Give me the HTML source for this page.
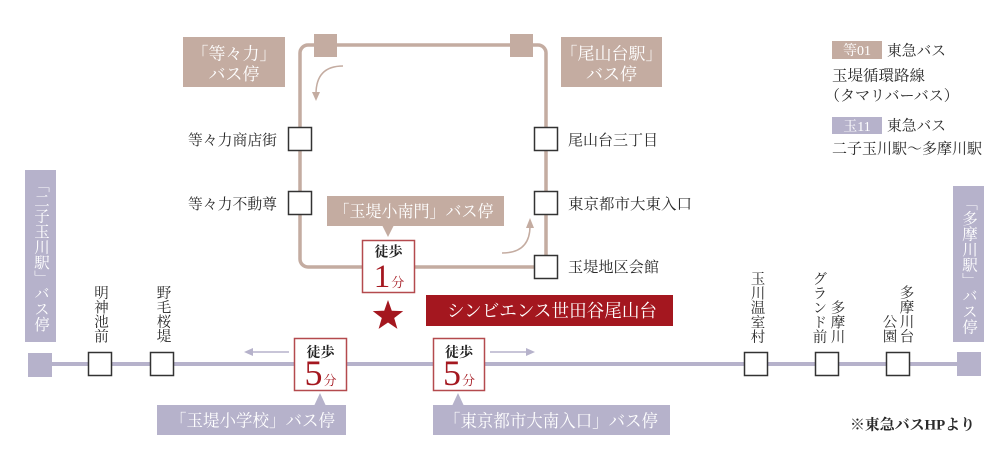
<!DOCTYPE html>
<html><head><meta charset="utf-8"><style>
html,body{margin:0;padding:0;background:#fff;}
body{width:1000px;height:466px;position:relative;overflow:hidden;font-family:"Liberation Serif","Noto Serif CJK SC",serif;}
svg{position:absolute;left:0;top:0;}
svg text{font-family:"Liberation Serif","Noto Serif CJK SC",serif;}
.v{position:absolute;writing-mode:vertical-rl;font-size:14.5px;line-height:15px;width:15px;color:#2a2a2a;white-space:nowrap;}
.vb{position:absolute;writing-mode:vertical-rl;font-size:15.5px;line-height:31px;width:31px;color:#fff;white-space:nowrap;}
</style></head><body>
<svg width="1000" height="466" viewBox="0 0 1000 466">
<!-- top loop -->
<rect x="300" y="45" width="246" height="222" rx="8" fill="none" stroke="#c4aca1" stroke-width="3.5"/>
<rect x="314" y="34" width="23" height="23" fill="#c4aca1"/>
<rect x="510" y="34" width="23" height="23" fill="#c4aca1"/>
<rect x="183" y="37" width="102" height="50" fill="#c4aca1"/>
<rect x="561" y="37" width="101" height="50" fill="#c4aca1"/>
<rect x="327" y="196" width="177" height="30" fill="#c4aca1"/>
<polygon points="382,225 394,225 388,237" fill="#c4aca1"/>
<path d="M343,66 Q316,66 316,94" fill="none" stroke="#c4aca1" stroke-width="1.5"/>
<polygon points="312,92 320,92 316,101" fill="#c4aca1"/>
<path d="M502,253 Q530,253 530,226" fill="none" stroke="#c4aca1" stroke-width="1.5"/>
<polygon points="526,228 534,228 530,218" fill="#c4aca1"/>
<!-- top stop squares -->
<g fill="#fff" stroke="#333" stroke-width="1.5">
<rect x="288.5" y="127.5" width="23" height="23"/>
<rect x="288.5" y="191.5" width="23" height="23"/>
<rect x="534.5" y="127.5" width="23" height="23"/>
<rect x="534.5" y="191.5" width="23" height="23"/>
<rect x="534.5" y="255.5" width="23" height="23"/>
</g>
<!-- bottom line -->
<line x1="40" y1="364" x2="965" y2="364" stroke="#b6b2cb" stroke-width="4"/>
<rect x="28" y="353" width="24" height="24" fill="#b6b2cb"/>
<rect x="957" y="352" width="24" height="24" fill="#b6b2cb"/>
<rect x="25" y="170" width="31" height="172" fill="#b6b2cb"/>
<rect x="953" y="186" width="31" height="156" fill="#b6b2cb"/>
<g fill="#fff" stroke="#333" stroke-width="1.5">
<rect x="88.5" y="352.5" width="23" height="23"/>
<rect x="150.5" y="352.5" width="23" height="23"/>
<rect x="744.5" y="352.5" width="23" height="23"/>
<rect x="815.5" y="352.5" width="23" height="23"/>
<rect x="886.5" y="352.5" width="23" height="23"/>
</g>
<!-- walk arrows -->
<line x1="289" y1="352" x2="250" y2="352" stroke="#b6b2cb" stroke-width="1.5"/>
<polygon points="244,352 253,348 253,356" fill="#b6b2cb"/>
<line x1="490" y1="352" x2="528" y2="352" stroke="#b6b2cb" stroke-width="1.5"/>
<polygon points="535,352 526,348 526,356" fill="#b6b2cb"/>
<!-- lavender labels -->
<rect x="157" y="405" width="189" height="30" fill="#b6b2cb"/>
<polygon points="314,406 326,406 320,393" fill="#b6b2cb"/>
<rect x="433" y="405" width="237" height="30" fill="#b6b2cb"/>
<polygon points="452,406 464,406 458,393" fill="#b6b2cb"/>
<!-- walk boxes -->
<g fill="#fff" stroke="#b44a4e" stroke-width="1.5">
<rect x="362.5" y="240.5" width="52" height="52"/>
<rect x="294.5" y="338.5" width="52" height="52"/>
<rect x="433.5" y="338.5" width="51" height="52"/>
</g>
<!-- star -->
<polygon points="388,300 391.8,310.7 403.2,311.1 394.2,318 397.4,328.9 388,322.5 378.6,328.9 381.8,318 372.8,311.1 384.2,310.7" fill="#a4171f"/>
<!-- banner -->
<rect x="426" y="295" width="247" height="31" fill="#a4171f"/>
<!-- legend boxes -->
<rect x="832" y="41" width="50" height="18" fill="#c4aca1"/>
<rect x="832" y="117" width="50" height="17" fill="#b6b2cb"/>

<!-- texts -->
<g fill="#fff" font-size="17">
<text x="234" y="59.5" text-anchor="middle">「等々力」</text>
<text x="234" y="80" text-anchor="middle">バス停</text>
<text x="611.5" y="59.5" text-anchor="middle">「尾山台駅」</text>
<text x="611.5" y="80" text-anchor="middle">バス停</text>
</g>
<text x="413.5" y="217" text-anchor="middle" font-size="16.5" fill="#fff" textLength="160" lengthAdjust="spacingAndGlyphs">「玉堤小南門」バス停</text>
<g fill="#2a2a2a" font-size="15">
<text x="277" y="145" text-anchor="end" textLength="89" lengthAdjust="spacingAndGlyphs">等々力商店街</text>
<text x="277" y="209" text-anchor="end" textLength="89" lengthAdjust="spacingAndGlyphs">等々力不動尊</text>
<text x="568" y="145" textLength="90" lengthAdjust="spacingAndGlyphs">尾山台三丁目</text>
<text x="568" y="209" textLength="124" lengthAdjust="spacingAndGlyphs">東京都市大東入口</text>
<text x="568" y="272" textLength="91" lengthAdjust="spacingAndGlyphs">玉堤地区会館</text>
</g>
<text x="447" y="317" font-size="18" fill="#fff" textLength="210" lengthAdjust="spacingAndGlyphs">シンビエンス世田谷尾山台</text>
<text x="170" y="426.5" font-size="17" fill="#fff" textLength="165" lengthAdjust="spacingAndGlyphs">「玉堤小学校」バス停</text>
<text x="444" y="427" font-size="17.5" fill="#fff" textLength="214" lengthAdjust="spacingAndGlyphs">「東京都市大南入口」バス停</text>
<text x="850" y="429.5" font-size="15" fill="#2a2a2a" font-weight="bold" textLength="125" lengthAdjust="spacingAndGlyphs">※東急バスHPより</text>
<!-- walk box texts -->
<g font-weight="bold" font-size="14" fill="#222" text-anchor="middle">
<text x="388.5" y="256.3">徒歩</text>
<text x="320.5" y="357">徒歩</text>
<text x="459" y="357">徒歩</text>
</g>
<g fill="#a4171f" text-anchor="middle">
<text x="389" y="287"><tspan font-size="33">1</tspan><tspan font-size="13" dx="1">分</tspan></text>
<text x="320.5" y="385"><tspan font-size="36">5</tspan><tspan font-size="13" dx="1">分</tspan></text>
<text x="459" y="385"><tspan font-size="36">5</tspan><tspan font-size="13" dx="1">分</tspan></text>
</g>
<!-- legend -->
<text x="857" y="55" text-anchor="middle" font-size="14" fill="#fff">等01</text>
<text x="857" y="131" text-anchor="middle" font-size="14" fill="#fff">玉11</text>
<g fill="#2a2a2a" font-size="15">
<text x="887" y="55.7" textLength="59" lengthAdjust="spacingAndGlyphs">東急バス</text>
<text x="832" y="80.7" textLength="93" lengthAdjust="spacingAndGlyphs">玉堤循環路線</text>
<text x="825" y="100.7">（タマリバーバス）</text>
<text x="887" y="130.7" textLength="59" lengthAdjust="spacingAndGlyphs">東急バス</text>
<text x="832" y="153.7" textLength="150" lengthAdjust="spacingAndGlyphs">二子玉川駅〜多摩川駅</text>
</g>
</svg>

<!-- vertical big labels -->
<div class="vb" style="left:25px;top:177px;">「二子玉川駅」バス停</div>
<div class="vb" style="left:953px;top:195px;">「多摩川駅」バス停</div>

<!-- vertical stop labels -->
<div class="v" style="left:92px;top:285px;">明神池前</div>
<div class="v" style="left:154.5px;top:285px;">野毛桜堤</div>
<div class="v" style="left:748.5px;top:270.5px;">玉川温室村</div>
<div class="v" style="left:828.5px;top:299.5px;">多摩川</div>
<div class="v" style="left:810.5px;top:270.5px;">グランド前</div>
<div class="v" style="left:897.5px;top:285px;">多摩川台</div>
<div class="v" style="left:880.5px;top:314px;">公園</div>
</body></html>
